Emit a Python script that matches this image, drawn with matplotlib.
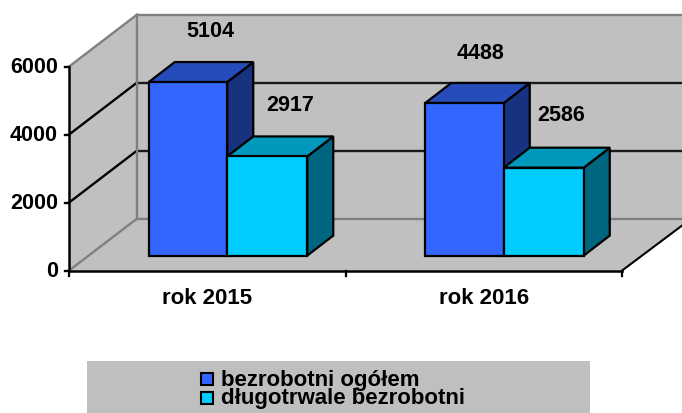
import matplotlib
matplotlib.use('Agg')
import matplotlib.pyplot as plt
from matplotlib.patches import Polygon, Rectangle

categories = ['rok 2015', 'rok 2016']
ogolem = [5104, 4488]
dlugotrwale = [2917, 2586]
y_ticks = [0, 2000, 4000, 6000]
legend_names = ['bezrobotni ogółem', 'długotrwale bezrobotni']

plt.rcParams['font.family'] = ['Liberation Sans', 'DejaVu Sans']
plt.rcParams['font.weight'] = 'bold'

W, H = 682, 414
X0, X1 = 69, 622      # front edge of the floor, px
Y0, PX_PER_UNIT = 271.6, 204 / 6000
DEPTH = (68, 52)      # wall depth, px
BAR_IN = (20, 15)     # bar front face set in from the front edge
BAR_D = (26, 20)      # bar depth
W_BLUE, W_CYAN = 78.5, 80

fig = plt.figure(figsize=(W / 100, H / 100), dpi=100)
ax = fig.add_axes([0, 0, 1, 1])
# x axis: one unit per category, y axis: the value scale of the front wall
px_cat = (X1 - X0) / len(categories)
ax.set_xlim(-X0 / px_cat, (W - X0) / px_cat)
ax.set_ylim(-(H - Y0) / PX_PER_UNIT, Y0 / PX_PER_UNIT)
ax.axis('off')


def shift(x, y, dx=0, dy=0):
    return x + dx / px_cat, y + dy / PX_PER_UNIT


def poly(points, color, edge='black', lw=1.6, z=2):
    ax.add_patch(Polygon(points, closed=True, facecolor=color, edgecolor=edge,
                         linewidth=lw, joinstyle='miter', zorder=z))


gray = '#c0c0c0'
n = len(categories)
top = y_ticks[-1]
dx, dy = DEPTH
xr = (W - X0) / px_cat
back0 = shift(0, 0, dx, dy)
back_top = shift(0, top, dx, dy)
floor_r = shift(n, 0, W - X1, (W - X1) * 0.75)

# back wall, left wall and floor
poly([back0, (xr, back0[1]), (xr, back_top[1]), back_top], gray, edge='none', lw=0, z=1)
poly([(0, 0), back0, back_top, (0, top)], gray, edge='none', lw=0, z=1)
poly([(0, 0), (n, 0), floor_r, (xr, back0[1]), back0], gray, edge='none', lw=0, z=1)

# grid lines along left and back wall
for t in y_ticks:
    back = shift(0, t, dx, dy)
    edge_line = t in (0, top)
    ax.plot([back[0], xr], [back[1], back[1]], color='#808080' if edge_line else '#1a1a1a',
            lw=1.7, zorder=1.5, solid_capstyle='butt')
    ax.plot([0, back[0]], [t, back[1]], color='#808080' if edge_line else 'black', lw=1.7, zorder=1.5)
    ax.plot([shift(0, 0, -4)[0], 0], [t, t], color='black', lw=1.7, zorder=3)
    ax.text(shift(0, 0, -11)[0], t, str(t), ha='right', va='center', fontsize=15.5)

# back corner of the walls
ax.plot([back0[0]] * 2, [back0[1], back_top[1]], color='#808080', lw=1.7, zorder=1.5)

# axes at the front
ax.plot([0, 0], [0, top], color='black', lw=1.8, zorder=3)
ax.plot([0, n], [0, 0], color='black', lw=1.8, zorder=3)
ax.plot([n, floor_r[0]], [0, floor_r[1]], color='black', lw=1.5, zorder=3)
for i in range(n + 1):
    ax.plot([i, i], [0, shift(0, 0, 0, -5)[1]], color='black', lw=1.6, zorder=3)


def bar(left, width, value, front, side, cap, z):
    w = width / px_cat
    b = BAR_IN[1] / PX_PER_UNIT
    t = b + value
    ddx, ddy = BAR_D
    poly([(left + w, b), shift(left + w, b, ddx, ddy), shift(left + w, t, ddx, ddy), (left + w, t)], side, z=z)
    poly([(left, t), (left + w, t), shift(left + w, t, ddx, ddy), shift(left, t, ddx, ddy)], cap, z=z)
    poly([(left, b), (left + w, b), (left + w, t), (left, t)], front, z=z + 0.1)


# px offset of the value labels from the shared edge of a bar pair
blue_off = [(-17, 67), (-23, 66)]
cyan_off = [(63, 67), (57, 68)]
for i, cat in enumerate(categories):
    centre = i + 0.5
    cx = shift(centre, 0, BAR_IN[0])[0]
    bar(cx - W_BLUE / px_cat, W_BLUE, ogolem[i], '#3366ff', '#17337f', '#254cb8', 4)
    bar(cx, W_CYAN, dlugotrwale[i], '#00ccff', '#006680', '#0099bb', 5)
    x1, y1 = shift(cx, ogolem[i], *blue_off[i])
    ax.text(x1, y1, str(ogolem[i]), ha='center', va='center', fontsize=15.5, zorder=8)
    x2, y2 = shift(cx, dlugotrwale[i], *cyan_off[i])
    ax.text(x2, y2, str(dlugotrwale[i]), ha='center', va='center', fontsize=15.5, zorder=8)
    ax.text(centre, shift(0, 0, 0, -27)[1], cat, ha='center', va='center', fontsize=16)

# legend box
lx, ly = shift(0, 0, 87 - X0, Y0 - 362)
lx2, ly2 = shift(0, 0, 590 - X0, Y0 - 414)
ax.add_patch(Rectangle((lx, ly2), lx2 - lx, ly - ly2, facecolor='#bfbfbf', edgecolor='none', zorder=1))
for col, py in zip(['#3366ff', '#00ccff'], [380, 399]):
    sx, sy = shift(0, 0, 201 - X0, Y0 - py - 6)
    ax.add_patch(Rectangle((sx, sy), 12 / px_cat, 12 / PX_PER_UNIT, facecolor=col, edgecolor='black',
                           linewidth=1.5, zorder=3))
tx, ty = shift(0, 0, 221 - X0, Y0 - 389.5)
ax.text(tx, ty, '\n'.join(legend_names), ha='left', va='center', fontsize=16, linespacing=0.85, zorder=3)

fig.savefig('out.png', dpi=100)
